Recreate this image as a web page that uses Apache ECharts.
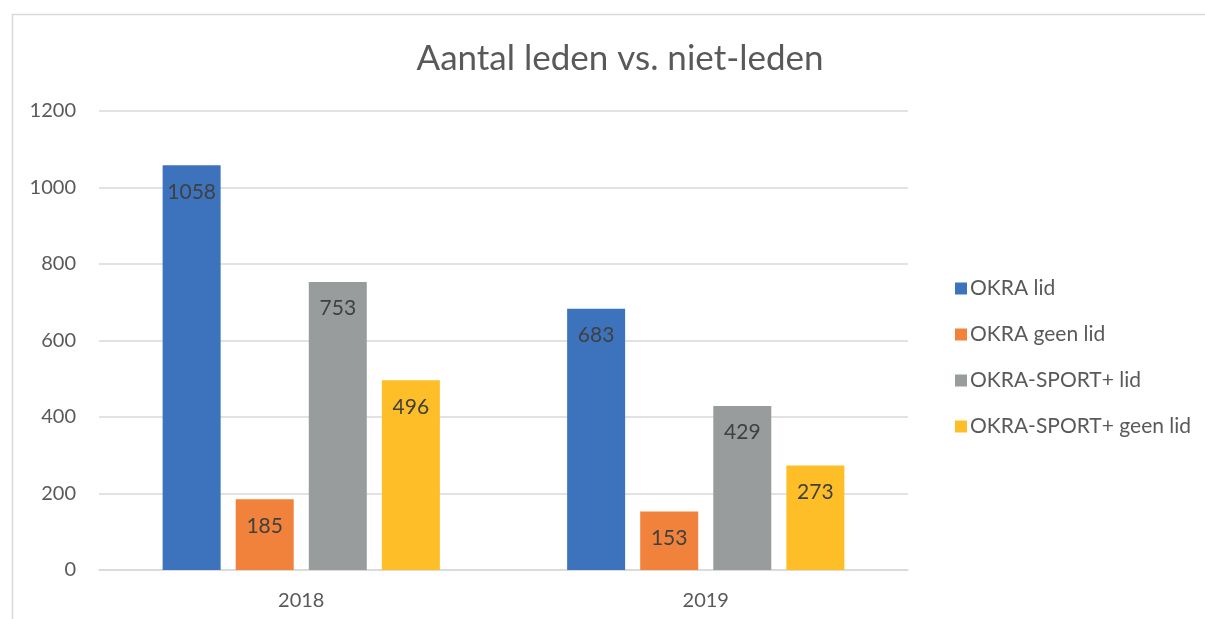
<!DOCTYPE html>
<html><head><meta charset="utf-8">
<script src="https://cdn.jsdelivr.net/npm/echarts@6/dist/echarts.min.js"></script>
<style>html,body{margin:0;padding:0;background:#fff}#c{width:1205px;height:619px}</style>
</head><body><div id="c"></div>
<script>
const categories = ['2018', '2019'];
const seriesNames = ['OKRA lid', 'OKRA geen lid', 'OKRA-SPORT+ lid', 'OKRA-SPORT+ geen lid'];
const okraLid = [1058, 683];
const okraGeenLid = [185, 153];
const sportLid = [753, 429];
const sportGeenLid = [496, 273];
const colors = ['#3d73bc', '#f1823b', '#999c9c', '#fdbe28'];
const values = [okraLid, okraGeenLid, sportLid, sportGeenLid];
const font = 'Lato, "Open Sans", sans-serif';

const chart = echarts.init(document.getElementById('c'));
chart.setOption({
  animation: false,
  textStyle: { fontFamily: font },
  graphic: [{
    type: 'rect', left: 10, top: 12, shape: { width: 1300, height: 700 },
    style: { fill: 'none', stroke: '#d9d9d9', lineWidth: 1.5 }, silent: true
  }],
  title: {
    text: 'Aantal leden vs. niet-leden', left: 615, top: 36, textAlign: 'center',
    textStyle: { fontFamily: font, fontSize: 35, fontWeight: 'normal', color: '#595959' }
  },
  legend: {
    orient: 'vertical', left: 950, top: 273, itemWidth: 12, itemHeight: 12, itemGap: 25,
    icon: 'rect', data: seriesNames,
    textStyle: { fontFamily: font, fontSize: 21, color: '#595959', padding: [0, 0, 0, -2] }
  },
  grid: { left: 99, right: 297, top: 111, bottom: 49 },
  xAxis: {
    type: 'category', data: categories,
    axisLine: { lineStyle: { color: '#d9d9d9', width: 1.5 } },
    axisTick: { show: false },
    axisLabel: { fontFamily: font, fontSize: 20, color: '#595959', margin: 21 }
  },
  yAxis: {
    type: 'value', min: 0, max: 1200, interval: 200,
    axisLine: { show: false }, axisTick: { show: false },
    splitLine: { lineStyle: { color: '#d9d9d9', width: 1.5 } },
    axisLabel: { fontFamily: font, fontSize: 20, color: '#595959', margin: 23, formatter: v => String(v) }
  },
  series: seriesNames.map((n, i) => ({
    name: n, type: 'bar', data: values[i], barWidth: 58, barGap: '26%',
    itemStyle: { color: colors[i] },
    label: { show: true, position: 'insideTop', distance: 16, fontFamily: font, fontSize: 21, color: '#404040' }
  }))
});
</script></body></html>
